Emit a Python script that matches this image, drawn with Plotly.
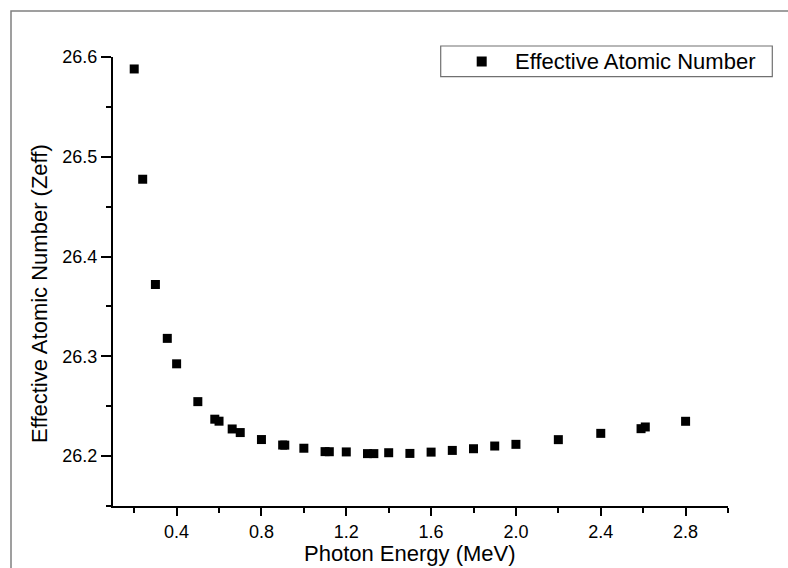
import plotly.graph_objects as go

energy_mev = [0.2, 0.24, 0.3, 0.356, 0.4, 0.5, 0.58, 0.6, 0.662, 0.7, 0.8, 0.9, 0.91,
              1.0, 1.1, 1.12, 1.2, 1.3, 1.33, 1.4, 1.5, 1.6, 1.7, 1.8, 1.9, 2.0,
              2.2, 2.4, 2.59, 2.61, 2.8]
zeff = [26.588, 26.4775, 26.372, 26.318, 26.2925, 26.2546, 26.237, 26.235, 26.2272, 26.2236,
        26.2166, 26.2111, 26.2110, 26.2079, 26.2045, 26.2044, 26.2042, 26.2025, 26.2025,
        26.2034, 26.2027, 26.2040, 26.2057, 26.2074, 26.2101, 26.2118, 26.2165, 26.2228,
        26.2275, 26.2292, 26.2349]

series_name = "Effective Atomic Number"
x_title = "Photon Energy (MeV)"
y_title = "Effective Atomic Number (Zeff)"

FONT = "Liberation Sans, Arial, sans-serif"

fig = go.Figure()
fig.add_trace(go.Scatter(
    x=energy_mev, y=zeff, mode="markers", name=series_name, showlegend=False,
    marker=dict(symbol="square", size=9, color="black", line=dict(width=0)),
))

L, R, T, B = 113, 60, 57, 62
W, H = 788, 568
pw, ph = W - L - R, H - T - B

def px_x(p):
    return (p - L) / pw

def px_y(p):
    return (H - B - p) / ph

# legend drawn as a framed box with a square swatch and a label
leg_box = dict(type="rect", xref="paper", yref="paper",
               x0=px_x(440.7), x1=px_x(772.3), y0=px_y(76.7), y1=px_y(46),
               line=dict(color="#707070", width=1.2), fillcolor="white")
leg_swatch = dict(type="rect", xref="paper", yref="paper",
                  x0=px_x(476.7), x1=px_x(486.7), y0=px_y(66.5), y1=px_y(56.5),
                  line=dict(width=0), fillcolor="black")

fig.update_layout(
    width=W, height=H,
    margin=dict(l=L, r=R, t=T, b=B),
    paper_bgcolor="white", plot_bgcolor="white",
    font=dict(family=FONT, color="black"),
    showlegend=False,
    xaxis=dict(
        range=[0.1, 3.0], tick0=0, dtick=0.4, tickformat=".1f",
        showline=True, linecolor="black", linewidth=2, mirror=False,
        ticks="outside", ticklen=8, tickwidth=1.5, tickcolor="black",
        showgrid=False, zeroline=False,
        tickfont=dict(size=18, family=FONT),
        minor=dict(dtick=0.2, tick0=0, ticks="outside", ticklen=5, tickwidth=1.5, tickcolor="black", showgrid=False),
    ),
    yaxis=dict(
        range=[26.15, 26.6], tick0=26.2, dtick=0.1, tickformat=".1f",
        showline=True, linecolor="black", linewidth=2, mirror=False,
        ticks="outside", ticklen=10, tickwidth=1.5, tickcolor="black",
        showgrid=False, zeroline=False,
        tickfont=dict(size=18, family=FONT),
        minor=dict(dtick=0.05, tick0=26.15, ticks="outside", ticklen=5, tickwidth=1.5, tickcolor="black", showgrid=False),
    ),
    shapes=[
        dict(type="rect", xref="paper", yref="paper",
             x0=px_x(11), x1=px_x(830), y0=px_y(620), y1=px_y(11),
             line=dict(color="#808080", width=1.5), fillcolor="rgba(0,0,0,0)", layer="below"),
        leg_box, leg_swatch,
    ],
    annotations=[
        dict(text=x_title, xref="paper", yref="paper", x=px_x(409.5), y=px_y(553),
             xanchor="center", yanchor="middle", showarrow=False, font=dict(size=22, family=FONT)),
        dict(text=y_title, xref="paper", yref="paper", x=px_x(39), y=px_y(294),
             xanchor="center", yanchor="middle", textangle=-90, showarrow=False,
             font=dict(size=22, family=FONT)),
        dict(text=series_name, xref="paper", yref="paper", x=px_x(513), y=px_y(61.5),
             xanchor="left", yanchor="middle", showarrow=False, font=dict(size=22, family=FONT)),
    ],
)

fig.write_html("out.html", config={"displayModeBar": False},
               post_script="document.body.style.margin='0';document.body.style.padding='0';document.body.style.overflow='hidden';")
